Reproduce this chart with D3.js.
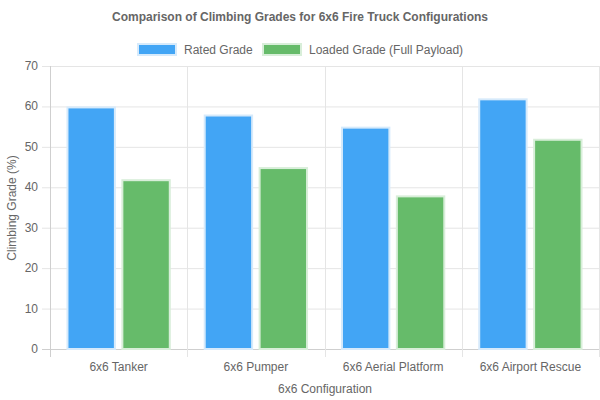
<!DOCTYPE html>
<html>
<head>
<meta charset="utf-8">
<script src="https://cdn.jsdelivr.net/npm/d3@7"></script>
<style>
  html, body { margin: 0; padding: 0; background: #fff; }
  text { font-family: "Liberation Sans", Arial, Helvetica, sans-serif; fill: #666; }
</style>
</head>
<body>
<script>
// chart data
const configs = ["6x6 Tanker", "6x6 Pumper", "6x6 Aerial Platform", "6x6 Airport Rescue"];
const ratedGrade = [60, 58, 55, 62];
const loadedGrade = [42, 45, 38, 52];
const seriesNames = ["Rated Grade", "Loaded Grade (Full Payload)"];
const yTicks = [0, 10, 20, 30, 40, 50, 60, 70];

const width = 600;
const height = 400;
const plotLeft = 50, plotRight = 599, plotTop = 66, plotBottom = 349;

const fills = ["#42A5F5", "#66BB6A"];
const borders = ["#d6eafb", "#d8eed9"];

const svg = d3.select("body")
    .append("svg")
    .attr("width", width)
    .attr("height", height);

// title
svg.append("text")
    .attr("x", 300)
    .attr("y", 21)
    .attr("text-anchor", "middle")
    .style("font-size", "12px")
    .style("font-weight", "bold")
    .text("Comparison of Climbing Grades for 6x6 Fire Truck Configurations");

// legend
const legendItems = [
  { name: seriesNames[0], x: 137 },
  { name: seriesNames[1], x: 262 }
];
legendItems.forEach((d, i) => {
  svg.append("rect")
      .attr("x", d.x + 1)
      .attr("y", 44)
      .attr("width", 38)
      .attr("height", 11)
      .attr("fill", fills[i])
      .attr("stroke", borders[i])
      .attr("stroke-width", 2);
  svg.append("text")
      .attr("x", d.x + 47)
      .attr("y", 54)
      .style("font-size", "12px")
      .text(d.name);
});

const scaleX = d3.scaleBand()
    .domain(configs)
    .range([plotLeft, plotRight]);

const scaleY = d3.scaleLinear()
    .domain([0, 70])
    .range([plotBottom, plotTop]);

// horizontal grid
svg.append("g")
    .selectAll("line")
    .data(yTicks)
    .enter()
    .append("line")
    .attr("x1", plotLeft - 8)
    .attr("x2", plotRight)
    .attr("y1", d => scaleY(d) + 0.5)
    .attr("y2", d => scaleY(d) + 0.5)
    .attr("stroke", d => d === 0 ? "#cfcfcf" : "#e5e5e5")
    .attr("stroke-width", 1);

// vertical grid (category boundaries)
const bounds = configs.map(c => scaleX(c)).concat([plotRight]);
svg.append("g")
    .selectAll("line")
    .data(bounds)
    .enter()
    .append("line")
    .attr("x1", d => Math.round(d) + 0.5)
    .attr("x2", d => Math.round(d) + 0.5)
    .attr("y1", plotTop)
    .attr("y2", plotBottom + 8)
    .attr("stroke", (d, i) => i === 0 ? "#cfcfcf" : "#e5e5e5")
    .attr("stroke-width", 1);

// y tick labels
svg.append("g")
    .selectAll("text")
    .data(yTicks)
    .enter()
    .append("text")
    .attr("x", 38)
    .attr("y", d => scaleY(d) + 4)
    .attr("text-anchor", "end")
    .style("font-size", "12px")
    .text(d => d);

// x tick labels
svg.append("g")
    .selectAll("text")
    .data(configs)
    .enter()
    .append("text")
    .attr("x", d => scaleX(d) + scaleX.bandwidth() / 2)
    .attr("y", 371)
    .attr("text-anchor", "middle")
    .style("font-size", "12px")
    .text(d => d);

// axis titles
svg.append("text")
    .attr("x", 325)
    .attr("y", 393)
    .attr("text-anchor", "middle")
    .style("font-size", "12px")
    .text("6x6 Configuration");

svg.append("text")
    .attr("transform", "translate(16, 208) rotate(-90)")
    .attr("text-anchor", "middle")
    .style("font-size", "12px")
    .text("Climbing Grade (%)");

// bars: chart.js style, category 0.8, bar 0.9
const inner = d3.scaleBand()
    .domain([0, 1])
    .range([0, scaleX.bandwidth() * 0.8]);

const series = [ratedGrade, loadedGrade];
series.forEach((vals, s) => {
  svg.append("g")
      .selectAll("rect")
      .data(vals)
      .enter()
      .append("rect")
      .attr("x", (d, i) => scaleX(configs[i]) + scaleX.bandwidth() * 0.1 + inner(s) + inner.bandwidth() * 0.05 + 1)
      .attr("y", d => scaleY(d) + 1)
      .attr("width", inner.bandwidth() * 0.9 - 2)
      .attr("height", d => scaleY(0) - scaleY(d) - 1)
      .attr("fill", fills[s])
      .attr("stroke", borders[s])
      .attr("stroke-width", 2);
});
</script>
</body>
</html>
